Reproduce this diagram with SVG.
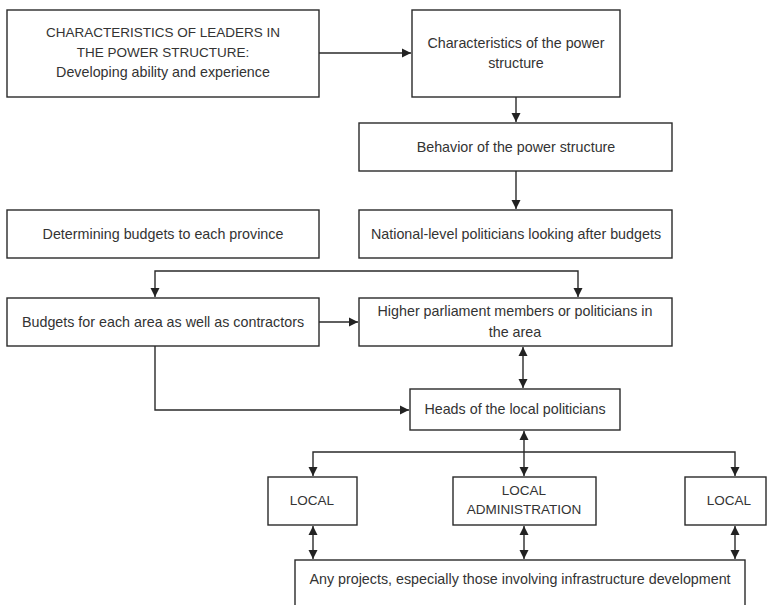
<svg xmlns="http://www.w3.org/2000/svg" width="767" height="605" viewBox="0 0 767 605">
<defs>
<marker id="ah" markerUnits="userSpaceOnUse" markerWidth="10" markerHeight="10" refX="9" refY="5" orient="auto-start-reverse">
<path d="M0,0.5 L9,5 L0,9.5 z" fill="#222"/>
</marker>
<style>
.box{fill:#fff;stroke:#2a2a2a;stroke-width:1.4}
.t{font-family:"Liberation Sans",Arial,sans-serif;font-size:14.3px;fill:#333;text-anchor:middle}
.u{font-size:13.5px}
.c{fill:none;stroke:#2a2a2a;stroke-width:1.4}
.a{marker-end:url(#ah)}
.b{marker-start:url(#ah);marker-end:url(#ah)}
</style>
</defs>
<rect width="767" height="605" fill="#fff"/>
<g id="connectors">
<path class="c a" d="M319,53 H411"/>
<path class="c a" d="M516,97 V122"/>
<path class="c a" d="M516,171 V209"/>
<path class="c b" d="M155,297 V271 H578 V297"/>
<path class="c a" d="M319,322 H358"/>
<path class="c b" d="M523,347 V388"/>
<path class="c a" d="M155,346 V410 H409"/>
<path class="c b" d="M524,431 V476"/>
<path class="c b" d="M313,476 V452 H735 V476"/>
<path class="c b" d="M313,526 V559"/>
<path class="c b" d="M524,526 V559"/>
<path class="c b" d="M735,526 V559"/>
</g>
<g id="n1"><rect class="box" x="7" y="10" width="312" height="87"/>
<text class="t u" x="163" y="37">CHARACTERISTICS OF LEADERS IN</text>
<text class="t u" x="163" y="57">THE POWER STRUCTURE:</text>
<text class="t" x="163" y="77">Developing ability and experience</text></g>
<g id="n2"><rect class="box" x="412" y="10" width="208" height="87"/>
<text class="t" x="516" y="48">Characteristics of the power</text>
<text class="t" x="516" y="68">structure</text></g>
<g id="n3"><rect class="box" x="359" y="123" width="313" height="48"/>
<text class="t" x="516" y="152">Behavior of the power structure</text></g>
<g id="n4"><rect class="box" x="359" y="210" width="313" height="48"/>
<text class="t" x="516" y="239">National-level politicians looking after budgets</text></g>
<g id="n5"><rect class="box" x="7" y="210" width="312" height="48"/>
<text class="t" x="163" y="239">Determining budgets to each province</text></g>
<g id="n6"><rect class="box" x="7" y="298" width="312" height="48"/>
<text class="t" x="163" y="327">Budgets for each area as well as contractors</text></g>
<g id="n7"><rect class="box" x="359" y="298" width="313" height="48"/>
<text class="t" x="515" y="316">Higher parliament members or politicians in</text>
<text class="t" x="515" y="337">the area</text></g>
<g id="n8"><rect class="box" x="410" y="389" width="210" height="41"/>
<text class="t" x="515" y="414">Heads of the local politicians</text></g>
<g id="n9"><rect class="box" x="268" y="477" width="89" height="48"/>
<text class="t u" x="312" y="505">LOCAL</text></g>
<g id="n10"><rect class="box" x="453" y="477" width="143" height="48"/>
<text class="t u" x="524" y="495">LOCAL</text>
<text class="t u" x="524" y="514">ADMINISTRATION</text></g>
<g id="n11"><rect class="box" x="685" y="477" width="81" height="48"/>
<text class="t u" x="729" y="505">LOCAL</text></g>
<g id="n12"><rect class="box" x="295" y="560" width="450" height="60"/>
<text class="t" x="520" y="584">Any projects, especially those involving  infrastructure development</text></g>
</svg>
